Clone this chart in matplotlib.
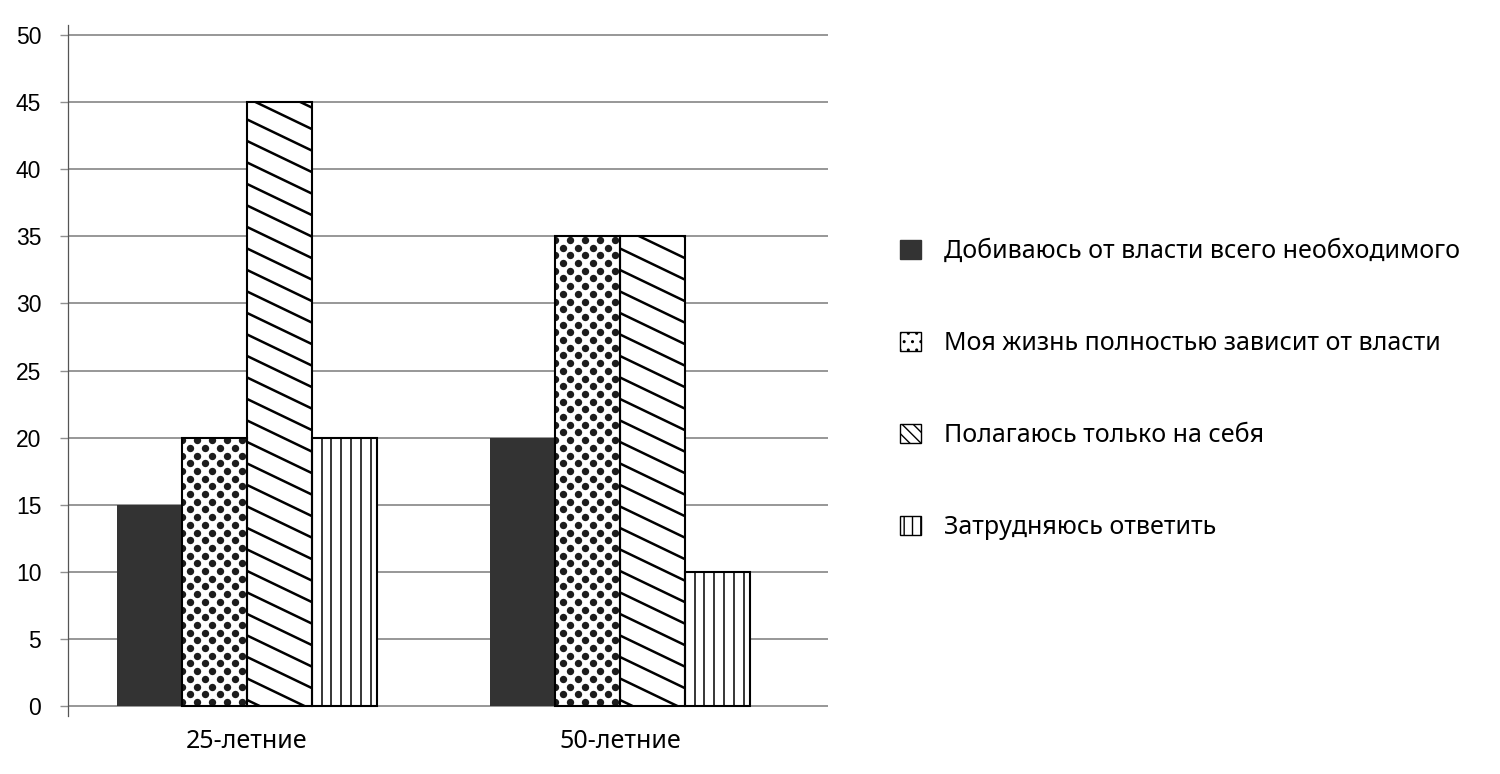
import matplotlib.pyplot as plt
import numpy as np
from matplotlib.patches import Patch

# data
groups = ['25-летние', '50-летние']
labels = ['Добиваюсь от власти всего необходимого',
          'Моя жизнь полностью зависит от власти',
          'Полагаюсь только на себя',
          'Затрудняюсь ответить']
dobivayus = [15, 20]
zavisit = [20, 35]
sam = [45, 35]
zatrud = [20, 10]

FONT = ['Noto Sans', 'DejaVu Sans']
W = 0.174


def px_box(ax, bar):
    (x0, y0), (x1, y1) = ax.transData.transform(
        [(bar.get_x(), bar.get_y()),
         (bar.get_x() + bar.get_width(), bar.get_y() + bar.get_height())])
    return x0, y0, x1, y1


def diag_fill(ax, bar, step=21.5, slope=0.48):
    x0, y0, x1, y1 = px_box(ax, bar)
    w = x1 - x0
    inv = ax.transData.inverted()
    for c in np.arange(y0 + 6, y1 + slope * w + step, step):
        pts = inv.transform([(x0, c), (x1, c - slope * w)])
        ln, = ax.plot(pts[:, 0], pts[:, 1], color='black', lw=1.8, zorder=3,
                      solid_capstyle='butt')
        ln.set_clip_path(bar)


def vert_fill(ax, bar, step=9.8):
    x0, y0, x1, y1 = px_box(ax, bar)
    inv = ax.transData.inverted()
    for x in np.arange(x0 + step, x1 - 2, step):
        pts = inv.transform([(x, y0), (x, y1)])
        ln, = ax.plot(pts[:, 0], pts[:, 1], color='black', lw=1.1, zorder=3)
        ln.set_clip_path(bar)


def dot_fill(ax, bar, dx=15.0, dy=7.7):
    x0, y0, x1, y1 = px_box(ax, bar)
    inv = ax.transData.inverted()
    pts = []
    for i, y in enumerate(np.arange(y0 + 4, y1 + dy, dy)):
        off = 0 if i % 2 == 0 else dx / 2
        for x in np.arange(x0 - dx + off, x1 + dx, dx):
            pts.append((x, y))
    pts = inv.transform(pts)
    sc = ax.scatter(pts[:, 0], pts[:, 1], s=28, color='#1c1c1c', lw=0, zorder=3)
    sc.set_clip_path(bar)


fig = plt.figure(figsize=(15, 7.74), dpi=100)
ax = fig.add_axes([68 / 1500, 58 / 774, 760 / 1500, 691 / 774])

x = np.arange(len(groups))
b1 = ax.bar(x - 1.5 * W, dobivayus, W, color='#333333', zorder=2)
b2 = ax.bar(x - 0.5 * W, zavisit, W, color='white', zorder=2)
b3 = ax.bar(x + 0.5 * W, sam, W, color='white', zorder=2)
b4 = ax.bar(x + 1.5 * W, zatrud, W, color='white', zorder=2)

ax.set_xlim(-0.48, 1.558)
ax.set_ylim(-0.75, 50.75)

for b in b2:
    dot_fill(ax, b)
for b in b3:
    diag_fill(ax, b)
for b in b4:
    vert_fill(ax, b)
for bars, vals in [(b2, zavisit), (b3, sam), (b4, zatrud)]:
    ax.bar([r.get_x() + W / 2 for r in bars], vals, W, fill=False,
           edgecolor='black', lw=1.5, zorder=4)

ax.set_yticks(range(0, 51, 5))
ax.yaxis.grid(True, color='#8f8f8f', lw=1.3)
ax.set_axisbelow(True)
ax.tick_params(axis='y', length=8 * 0.72, width=1.0, color='#8f8f8f',
               pad=13.5, labelsize=16.5)
for t in ax.get_yticklabels():
    t.set_fontfamily(['Liberation Sans', 'DejaVu Sans'])
ax.set_xticks(x)
ax.set_xticklabels(groups, fontsize=18, family=FONT)
ax.tick_params(axis='x', length=0, pad=9)
for s in ['top', 'right', 'bottom']:
    ax.spines[s].set_visible(False)
ax.spines['left'].set_color('#555555')
ax.spines['left'].set_linewidth(0.9)

handles = [Patch(facecolor='#333333', edgecolor='#333333'),
           Patch(facecolor='white', edgecolor='black', hatch='..'),
           Patch(facecolor='white', edgecolor='black', hatch='\\\\\\'),
           Patch(facecolor='white', edgecolor='black', hatch='||')]
fig.legend(handles, labels, loc='center left', bbox_to_anchor=(0.6, 0.4965),
           frameon=False, prop={'family': FONT, 'size': 18},
           handlelength=0.84, handleheight=0.84, handletextpad=0.92,
           labelspacing=2.68, borderpad=0, borderaxespad=0)

fig.savefig('out.png', dpi=100)
